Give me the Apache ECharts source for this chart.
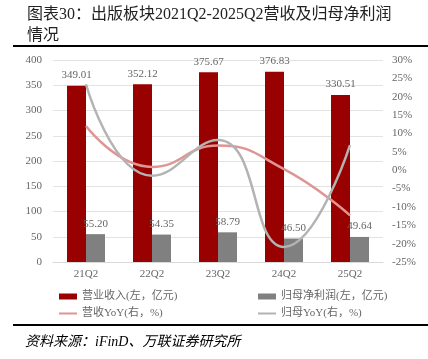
<!DOCTYPE html>
<html>
<head>
<meta charset="utf-8">
<script src="https://cdn.jsdelivr.net/npm/echarts@6/dist/echarts.min.js"></script>
<style>html,body{margin:0;padding:0;background:#fff}#c{width:428px;height:359px}</style>
</head>
<body>
<div id="c"></div>
<script>
const categories = ['21Q2', '22Q2', '23Q2', '24Q2', '25Q2'];
const revenue = [349.01, 352.12, 375.67, 376.83, 330.51];
const netProfit = [55.20, 54.35, 58.79, 46.50, 49.64];
const revenueYoY = [12.0, 0.9, 6.7, 0.3, -12.3];
const profitYoY = [23.4, -1.5, 8.2, -20.9, 6.8];
const names = ['营业收入(左，亿元)', '归母净利润(左，亿元)', '营收YoY(右，%)', '归母YoY(右，%)'];

const FONT = '"Liberation Serif", "Noto Sans CJK SC", serif';
const chart = echarts.init(document.getElementById('c'), null, {renderer: 'canvas'});
const legendText = {fontSize: 11, color: '#666', fontFamily: FONT};
function lg(name, left, top, h) {
  return {data: [name], left: left, top: top, itemWidth: 18, itemHeight: h, itemGap: 0,
    textStyle: legendText, icon: 'rect', selectedMode: false, padding: 0};
}
chart.setOption({
  animation: false,
  title: {
    text: '图表30：出版板块2021Q2-2025Q2营收及归母净利润\n情况',
    left: 22, top: -1,
    textStyle: {fontSize: 16, lineHeight: 21, fontWeight: 'normal', color: '#222', fontFamily: FONT}
  },
  graphic: [
    {type: 'rect', shape: {x: 13, y: 45, width: 415, height: 2}, style: {fill: '#000'}},
    {type: 'rect', shape: {x: 13, y: 324, width: 415, height: 2}, style: {fill: '#000'}},
    {type: 'text', left: 25, top: 335, style: {text: '资料来源：iFinD、万联证券研究所', fontSize: 14, fontStyle: 'italic', fill: '#000', fontFamily: FONT}}
  ],
  legend: [
    lg(names[0], 59, 291, 6),
    lg(names[1], 258, 291, 6),
    lg(names[2], 59, 308, 2),
    lg(names[3], 258, 308, 2)
  ],
  grid: {left: 53, right: 45, top: 60, bottom: 97},
  xAxis: {
    type: 'category', data: categories,
    axisLine: {lineStyle: {color: '#d9d9d9'}},
    axisTick: {show: false},
    axisLabel: {color: '#666', fontSize: 11, margin: 7, fontFamily: FONT}
  },
  yAxis: [
    {type: 'value', min: 0, max: 400, interval: 50,
     axisLine: {show: false}, axisTick: {show: false},
     axisLabel: {color: '#666', fontSize: 11, margin: 11, fontFamily: FONT},
     splitLine: {lineStyle: {color: '#e3e3e3'}}},
    {type: 'value', min: -25, max: 30, interval: 5,
     axisLine: {show: false}, axisTick: {show: false},
     axisLabel: {color: '#666', fontSize: 11, margin: 9, formatter: '{value}%', fontFamily: FONT},
     splitLine: {show: false}}
  ],
  series: [
    {name: names[0], type: 'bar', data: revenue, barWidth: 19, barGap: '0%',
     itemStyle: {color: '#990000'},
     label: {show: true, position: 'top', distance: 5, color: '#666', fontSize: 11, fontFamily: FONT,
             formatter: p => p.value.toFixed(2)}},
    {name: names[1], type: 'bar', data: netProfit, barWidth: 19,
     itemStyle: {color: '#808080'},
     label: {show: true, position: 'top', distance: 5, color: '#666', fontSize: 11, fontFamily: FONT,
             formatter: p => p.value.toFixed(2)}},
    {name: names[2], type: 'line', yAxisIndex: 1, data: revenueYoY, smooth: 0.5,
     showSymbol: false, symbol: 'none', lineStyle: {color: '#e09595', width: 2.5}, itemStyle: {color: '#e09595'}},
    {name: names[3], type: 'line', yAxisIndex: 1, data: profitYoY, smooth: 0.5,
     showSymbol: false, symbol: 'none', lineStyle: {color: '#b3b3b3', width: 2.5}, itemStyle: {color: '#b3b3b3'}}
  ]
});
</script>
</body>
</html>
